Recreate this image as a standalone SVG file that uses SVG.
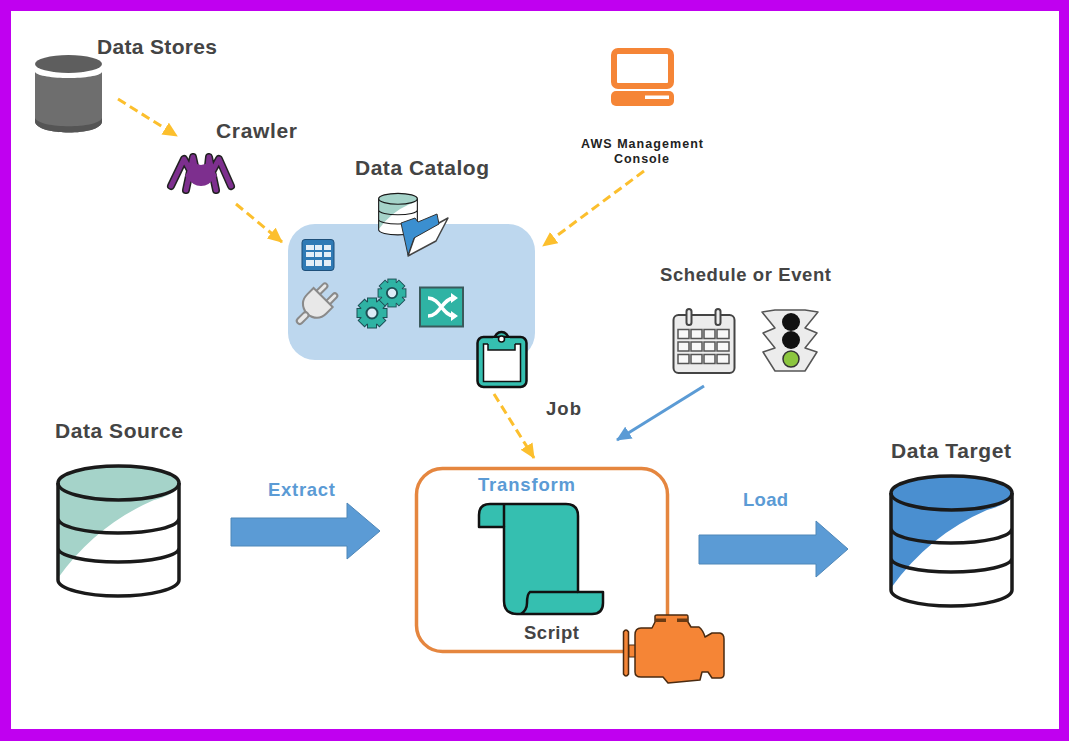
<svg xmlns="http://www.w3.org/2000/svg" xmlns:xlink="http://www.w3.org/1999/xlink" width="1069" height="741" viewBox="0 0 1069 741">
<style>
text{font-family:"Liberation Sans",Arial,sans-serif;font-weight:700;fill:#444}
.lg{font-size:21px}
.md{font-size:18.500px}
.bl{fill:#5b9bd5}
.dash{fill:none;stroke:#fcbf2d;stroke-width:3;stroke-dasharray:9 5;marker-end:url(#amber)}
.block{fill:#5b9bd5;stroke:#4f87b8;stroke-width:1}
.teal{fill:#35bfb0;stroke:#111;stroke-width:2.500;stroke-linejoin:round}
.ol{fill:none;stroke:#1a1a1a;stroke-width:3.500}
</style>
<defs>
<marker id="amber" markerUnits="userSpaceOnUse" markerWidth="16" markerHeight="14" refX="14" refY="7" orient="auto"><path d="M0 0L15 7L0 14Z" fill="#fcbf2d"/></marker>
<marker id="blue" markerUnits="userSpaceOnUse" markerWidth="16" markerHeight="14" refX="14" refY="7" orient="auto"><path d="M0 0L15 7L0 14Z" fill="#5b9bd5"/></marker>
<g id="db">
<path d="M2 18V115C2 124 30 131 62 131C95 131 123 124 123 115V18Z" fill="#fff"/>
<path d="M2 18A60.500 17 0 0 1 123 18C123 26 110 32 98 35Q40 60 2 113Z" fill="currentColor"/>
<ellipse class="ol" cx="62.500" cy="18" rx="60.500" ry="17"/>
<path class="ol" d="M2 18V115C2 124 30 131 62 131C95 131 123 124 123 115V18M2 53C2 62 30 68 62 68C95 68 123 62 123 53M2 83C2 91 30 97 62 97C95 97 123 91 123 83"/>
</g>
<g id="gear">
<g fill="#1d4f55" stroke="#1d4f55" stroke-width="2">
<rect x="-4" y="-14.500" width="8" height="29"/><rect x="-4" y="-14.500" width="8" height="29" transform="rotate(45)"/><rect x="-4" y="-14.500" width="8" height="29" transform="rotate(90)"/><rect x="-4" y="-14.500" width="8" height="29" transform="rotate(135)"/><circle r="11.500"/>
</g>
<g fill="#2fb3a4">
<rect x="-4" y="-14.500" width="8" height="29"/><rect x="-4" y="-14.500" width="8" height="29" transform="rotate(45)"/><rect x="-4" y="-14.500" width="8" height="29" transform="rotate(90)"/><rect x="-4" y="-14.500" width="8" height="29" transform="rotate(135)"/><circle r="11.500"/>
</g>
<circle r="5.500" fill="#dcecf7" stroke="#1d4f55" stroke-width="2"/>
</g>
</defs>

<rect width="1069" height="741" fill="#c000f0"/>
<rect x="11" y="11" width="1048" height="718" fill="#fff"/>

<g id="connectors">
<path class="dash" d="M118 99L177 136"/>
<path class="dash" d="M236 204L282 242"/>
<path class="dash" d="M644 171L543 246"/>
<path class="dash" d="M494 394L534 458"/>
<path d="M704 386L617 440" fill="none" stroke="#5b9bd5" stroke-width="3" marker-end="url(#blue)"/>
<path class="block" d="M231 518H347V503L380 531L347 559V546H231Z"/>
<path class="block" d="M699 535H816V521L848 549L816 577V564H699Z"/>
</g>

<g id="data-stores">
<path d="M35 72C40 80 98 80 102 72V122C100 136 38 136 35 122Z" fill="#6e6e6e"/>
<path d="M35 118C40 129 98 129 102 118V122C100 136 38 136 35 122Z" fill="#555"/>
<ellipse cx="68.500" cy="64" rx="33.500" ry="9" fill="#5e5e5e"/>
<text class="lg" x="97" y="54" textLength="120">Data Stores</text>
</g>

<g id="crawler">
<g fill="none" stroke-linecap="round" stroke-linejoin="round">
<g stroke="#222" stroke-width="8">
<path d="M190 170L184 159L171 186M195 166L193 157L186 190M208 166L209 157L216 190M213 170L219 159L231 186"/>
</g>
<g stroke="#7d2f8e" stroke-width="5">
<path d="M190 170L184 159L171 186M195 166L193 157L186 190M208 166L209 157L216 190M213 170L219 159L231 186"/>
</g>
</g>
<path d="M193 162Q201 168 209 162L217 176Q209 186 201 186Q193 186 185 176Z" fill="#7d2f8e"/>
<text class="lg" x="216" y="138" textLength="81">Crawler</text>
</g>

<g id="data-catalog">
<rect x="288" y="224" width="247" height="136" rx="27" fill="#bdd7ee"/>
<text class="lg" x="355" y="175" textLength="134">Data Catalog</text>
<g transform="translate(378 193) scale(.32)" style="color:#a5d3c9"><use href="#db"/></g>
<path d="M408 256L415 236L448 218L436 241Z" fill="#fff" stroke="#444" stroke-width="1.500" stroke-linejoin="round"/>
<path d="M401 223L415 218L418 222L437 214L439 224L414 238L408 255Z" fill="#3b8fd0" stroke="#333" stroke-width="1"/>
</g>

<g id="table-icon">
<rect x="302" y="239.500" width="32" height="31" rx="3" fill="#2f7ab5" stroke="#1d4f7a"/>
<path d="M306 245h8v5h-8zM315 245h7v5h-7zM324 245h7v5h-7zM306 252h8v5h-8zM315 252h7v5h-7zM324 252h7v5h-7zM306 260h8v6h-8zM315 260h7v6h-7zM324 260h7v6h-7z" fill="#e3eef7"/>
</g>

<g id="connection-icon" transform="rotate(45 315 305)" fill="#e8e8e8" stroke="#8a8a8a" stroke-width="2">
<rect x="306" y="282" width="5" height="14" rx="2.500"/>
<rect x="320" y="282" width="5" height="14" rx="2.500"/>
<path d="M302 294H329V303Q329 315 315.500 317Q302 315 302 303Z"/>
<rect x="312.500" y="316" width="6" height="14" rx="3"/>
</g>

<g id="jobs-gears">
<use href="#gear" transform="translate(372 313)"/>
<use href="#gear" transform="translate(392 293) scale(.93)"/>
</g>

<g id="shuffle-icon">
<rect x="420" y="287.500" width="43" height="39" fill="#2fb3a4" stroke="#3a5a5c" stroke-width="2"/>
<path d="M428 298C440 298 443 316 454 316M428 316C440 316 443 298 454 298" fill="none" stroke="#fff" stroke-width="3.500"/>
<path d="M451 293L458 298L451 303ZM451 311L458 316L451 321Z" fill="#fff"/>
</g>

<g id="clipboard">
<circle cx="501.500" cy="339" r="7" class="teal"/>
<rect x="477.500" y="337" width="49" height="50" rx="6" class="teal"/>
<rect x="483.500" y="344" width="37" height="37.500" fill="#fff" stroke="#111" stroke-width="1.500"/>
<path d="M488 343V350H515V343Z" fill="#35bfb0"/>
<path d="M488 344V350H515V344" fill="none" stroke="#111" stroke-width="1.500"/>
<rect x="493" y="338" width="17" height="7" fill="#35bfb0"/>
<circle cx="501.500" cy="339" r="3" fill="#fff" stroke="#111" stroke-width="1.500"/>
</g>

<g id="console">
<rect x="614" y="51" width="57" height="35" rx="4" fill="#fff" stroke="#f58536" stroke-width="6"/>
<rect x="611" y="91" width="63" height="15" rx="5" fill="#f58536"/>
<rect x="645" y="95.500" width="24" height="3.500" fill="#fff"/>
<text x="581" y="148" font-size="12.500" style="fill:#222" textLength="122">AWS Management</text>
<text x="614" y="163" font-size="12.500" style="fill:#222" textLength="55">Console</text>
</g>

<g id="schedule">
<text class="md" x="660" y="281" textLength="171">Schedule or Event</text>
<rect x="673.500" y="315" width="61" height="58" rx="5" fill="#ececec" stroke="#444" stroke-width="2"/>
<rect x="686.500" y="309" width="5" height="16" rx="2.500" fill="#ececec" stroke="#444" stroke-width="2"/>
<rect x="715.500" y="309" width="5" height="16" rx="2.500" fill="#ececec" stroke="#444" stroke-width="2"/>
<g fill="#f8f8f8" stroke="#555" stroke-width="1.500">
<path d="M678 329.500h11v9h-11zM691 329.500h11v9h-11zM704 329.500h11v9h-11zM717 329.500h12v9h-12zM678 342h11v9h-11zM691 342h11v9h-11zM704 342h11v9h-11zM717 342h12v9h-12zM678 354.500h11v9h-11zM691 354.500h11v9h-11zM704 354.500h11v9h-11zM717 354.500h12v9h-12z"/>
</g>
</g>

<g id="signal">
<path d="M775 310H805L818 312L805 328L817 333L805 348L817 352L805 371H775L763 352L775 348L763 333L775 328L762 312Z" fill="#ececec" stroke="#555" stroke-width="1.500" stroke-linejoin="round"/>
<circle cx="791" cy="322" r="9" fill="#111"/>
<circle cx="791" cy="340" r="9" fill="#111"/>
<circle cx="791" cy="359" r="8" fill="#8cc63f" stroke="#333" stroke-width="1.500"/>
</g>

<g id="job-label"><text class="md" x="546" y="415" textLength="35">Job</text></g>

<g id="data-source">
<text class="lg" x="55" y="438" textLength="128">Data Source</text>
<g transform="translate(56 465)" style="color:#a5d3c9"><use href="#db"/></g>
</g>

<g id="extract-label"><text class="md bl" x="268" y="496" textLength="67">Extract</text></g>

<g id="transform">
<rect x="416.500" y="468.500" width="251" height="183" rx="26" fill="#fff" stroke="#e5863f" stroke-width="3.500"/>
<text class="md bl" x="478" y="491" textLength="97">Transform</text>
<path class="teal" d="M504 527H479V515Q479 504 490 504H566Q578 504 578 516V592H603V603Q603 614 592 614H517Q504 614 504 601Z"/>
<path d="M504 504V527M578 592H530Q527 594 527 603Q527 610 521 614" fill="none" stroke="#111" stroke-width="2.500"/>
<text class="md" x="524" y="639" textLength="55">Script</text>
</g>

<g id="engine">
<path d="M623.500 632Q626 628 628.500 632V674Q626 678 623.500 674Z" fill="#f58536" stroke="#4a2a10" stroke-width="1.500"/>
<path d="M629 645H637V657H629Z" fill="#f58536" stroke="#4a2a10"/>
<path d="M635 635Q635 628 641 628H652L655 622V616Q655 615 657 615H687Q688 615 688 617V622L691 627H699Q703 630 705 637L712 633H720Q724 634 724 639V674Q724 678 720 678H712L708 672H702L700 680L668 683L663 677H641Q635 677 635 672Z" fill="#f58536" stroke="#4a2a10" stroke-width="1.500" stroke-linejoin="round"/>
<path d="M655 618.500H666V622H655ZM677 618.500H688V622H677Z" fill="#6b3a12"/>
</g>

<g id="load-label"><text class="md bl" x="743" y="506" textLength="45">Load</text></g>

<g id="data-target">
<text class="lg" x="891" y="458" textLength="120">Data Target</text>
<g transform="translate(889 475)" style="color:#4a8fd0"><use href="#db"/></g>
</g>
</svg>
